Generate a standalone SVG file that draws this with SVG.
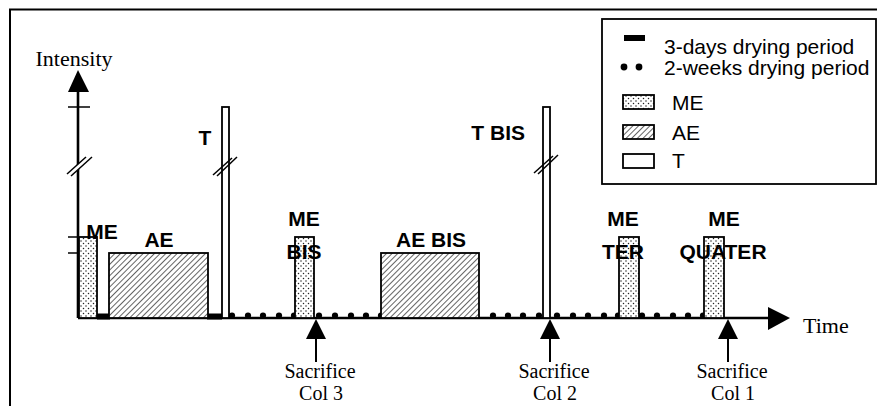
<svg xmlns="http://www.w3.org/2000/svg" width="877" height="406" viewBox="0 0 877 406">
<defs>
<pattern id="stip" width="5" height="5" patternUnits="userSpaceOnUse">
<rect width="5" height="5" fill="#fff"/>
<circle cx="1" cy="1" r="0.75" fill="#222"/>
<circle cx="3.5" cy="3.5" r="0.75" fill="#222"/>
</pattern>
<pattern id="hatch" width="4" height="4" patternUnits="userSpaceOnUse" patternTransform="rotate(45)">
<rect width="4" height="4" fill="#fff"/>
<line x1="0" y1="0" x2="0" y2="4" stroke="#222" stroke-width="1.4"/>
</pattern>
</defs>
<style>
.bar{stroke:#000;stroke-width:1.8}
.me{fill:url(#stip)}
.ae{fill:url(#hatch)}
.t{fill:#fff}
.lab{font-family:"Liberation Sans",Arial,sans-serif;font-weight:bold;font-size:21px;fill:#000}
.leg{font-family:"Liberation Sans",Arial,sans-serif;font-size:21px;fill:#000}
.ser{font-family:"Liberation Serif","Times New Roman",serif;font-size:22px;fill:#000}
.sm{font-size:20px}
.ax{stroke:#000;stroke-width:2.6;fill:none}
.brk{stroke:#000;stroke-width:1.5;fill:none}
.dot{fill:#000}
.sac{stroke:#000;stroke-width:2}
</style>
<rect width="877" height="406" fill="#fff"/>
<path d="M10 406 V9.5 H877" fill="none" stroke="#000" stroke-width="2"/>

<g id="axes">
<line class="ax" x1="78" y1="318" x2="78" y2="90"/>
<polygon points="78,70 68,92 89,92" fill="#000"/>
<line x1="68" y1="107" x2="90" y2="107" stroke="#000" stroke-width="1.5"/>
<line x1="68" y1="237" x2="78" y2="237" stroke="#000" stroke-width="1.5"/>
<line x1="68" y1="253" x2="78" y2="253" stroke="#000" stroke-width="1.5"/>
<polygon points="67,174 86,157 92,157 71,176" fill="#fff"/>
<line class="brk" x1="67" y1="174" x2="86" y2="157"/>
<line class="brk" x1="71" y1="176" x2="92" y2="157"/>
<line class="ax" x1="78" y1="318" x2="770" y2="318"/>
<polygon points="790,318 768,307 768,330" fill="#000"/>
<text class="ser" x="74" y="66" text-anchor="middle" font-size="23">Intensity</text>
<text class="ser" x="803" y="333">Time</text>
</g>

<g id="drying">
<rect x="97" y="313.5" width="13" height="6" fill="#000"/>
<rect x="207" y="313.5" width="15" height="6" fill="#000"/>
<g class="dot">
<circle cx="232" cy="315.5" r="3.1"/><circle cx="248" cy="315.5" r="3.1"/><circle cx="263" cy="315.5" r="3.1"/><circle cx="279" cy="315.5" r="3.1"/><circle cx="294" cy="315.5" r="3.1"/>
<circle cx="319" cy="315.5" r="3.1"/><circle cx="335" cy="315.5" r="3.1"/><circle cx="351" cy="315.5" r="3.1"/><circle cx="366" cy="315.5" r="3.1"/><circle cx="381" cy="315.5" r="3.1"/>
<circle cx="493" cy="315.5" r="3.1"/><circle cx="508" cy="315.5" r="3.1"/><circle cx="523" cy="315.5" r="3.1"/><circle cx="539" cy="315.5" r="3.1"/>
<circle cx="557" cy="315.5" r="3.1"/><circle cx="573" cy="315.5" r="3.1"/><circle cx="588" cy="315.5" r="3.1"/><circle cx="604" cy="315.5" r="3.1"/><circle cx="618" cy="315.5" r="3.1"/>
<circle cx="642" cy="315.5" r="3.1"/><circle cx="657" cy="315.5" r="3.1"/><circle cx="673" cy="315.5" r="3.1"/><circle cx="688" cy="315.5" r="3.1"/><circle cx="703" cy="315.5" r="3.1"/>
</g>
</g>

<g id="me1">
<rect class="bar me" x="79" y="237" width="18" height="81"/>
<text class="lab" x="102" y="239" text-anchor="middle">ME</text>
</g>
<g id="ae1">
<rect class="bar ae" x="109" y="253" width="99" height="65"/>
<text class="lab" x="159" y="247" text-anchor="middle">AE</text>
</g>
<g id="t1">
<rect class="bar t" x="222" y="107" width="7" height="211"/>
<line class="brk" x1="213" y1="175" x2="232" y2="158"/>
<line class="brk" x1="217" y1="176" x2="237" y2="157"/>
<text class="lab" x="205" y="145" text-anchor="middle">T</text>
</g>
<g id="me-bis">
<rect class="bar me" x="295" y="237" width="19" height="81"/>
<text class="lab" x="304" y="226" text-anchor="middle">ME</text>
<text class="lab" x="304" y="259" text-anchor="middle">BIS</text>
</g>
<g id="ae-bis">
<rect class="bar ae" x="381" y="253" width="98" height="65"/>
<text class="lab" x="431" y="247" text-anchor="middle">AE BIS</text>
</g>
<g id="t-bis">
<rect class="bar t" x="543" y="107" width="7" height="211"/>
<line class="brk" x1="534" y1="173" x2="553" y2="156"/>
<line class="brk" x1="538" y1="174" x2="558" y2="155"/>
<text class="lab" x="525" y="140" text-anchor="end">T BIS</text>
</g>
<g id="me-ter">
<rect class="bar me" x="619" y="237" width="20" height="81"/>
<text class="lab" x="623" y="226" text-anchor="middle">ME</text>
<text class="lab" x="623" y="259" text-anchor="middle">TER</text>
</g>
<g id="me-quater">
<rect class="bar me" x="704" y="237" width="20" height="81"/>
<text class="lab" x="724" y="226" text-anchor="middle">ME</text>
<text class="lab" x="723" y="259" text-anchor="middle">QUATER</text>
</g>

<g id="connectors">
<line class="sac" x1="316" y1="337" x2="316" y2="362"/>
<polygon points="316,319 306,339 326,339" fill="#000"/>
<line class="sac" x1="550" y1="337" x2="550" y2="362"/>
<polygon points="550,319 540,339 560,339" fill="#000"/>
<line class="sac" x1="728" y1="337" x2="728" y2="362"/>
<polygon points="728,319 718,339 738,339" fill="#000"/>
</g>

<g id="sac3"><text class="ser sm" x="320" y="378" text-anchor="middle">Sacrifice</text><text class="ser sm" x="321" y="400" text-anchor="middle">Col 3</text></g>
<g id="sac2"><text class="ser sm" x="554" y="378" text-anchor="middle">Sacrifice</text><text class="ser sm" x="555" y="400" text-anchor="middle">Col 2</text></g>
<g id="sac1"><text class="ser sm" x="732" y="378" text-anchor="middle">Sacrifice</text><text class="ser sm" x="733" y="400" text-anchor="middle">Col 1</text></g>

<g id="legend">
<rect x="602" y="19" width="274" height="165" fill="#fff" stroke="#000" stroke-width="1.8"/>
<rect x="624" y="35" width="21" height="6" fill="#000"/>
<text class="leg" x="664" y="54">3-days drying period</text>
<circle cx="624" cy="67" r="3.4" fill="#000"/>
<circle cx="639" cy="67" r="3.4" fill="#000"/>
<text class="leg" x="664" y="75">2-weeks drying period</text>
<rect class="bar me" x="623" y="95" width="31" height="14" stroke-width="1.3"/>
<text class="leg" x="672" y="110">ME</text>
<rect class="bar ae" x="623" y="125" width="31" height="14" stroke-width="1.3"/>
<text class="leg" x="672" y="140">AE</text>
<rect class="bar t" x="623" y="154" width="31" height="14" stroke-width="1.3"/>
<text class="leg" x="672" y="168">T</text>
</g>
</svg>
